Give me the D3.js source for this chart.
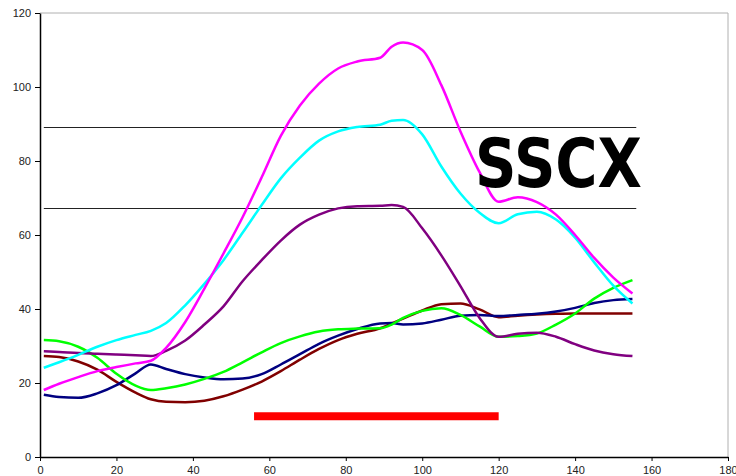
<!DOCTYPE html>
<html><head><meta charset="utf-8">
<script src="https://cdn.jsdelivr.net/npm/d3@7"></script>
<style>body{margin:0;background:#fff}svg{display:block}</style>
</head><body>
<script>
const xs      = [1,5,10,15,20,25,29,33,38,43,48,53,58,63,68,73,78,83,89,92,95,100,105,110,115,120,125,130,135,140,145,150,155];
const magenta = [18.1,19.8,21.6,23.2,24.3,25.3,26,29.5,36.5,45.5,55,64.8,75.6,86.8,95,100.9,105,106.9,107.9,110.9,112,110,100.5,88,77,69,70.2,68.9,65.5,60,53.8,48.5,44.2];
const cyan    = [24.1,25.6,27.6,29.8,31.6,33,34.1,36.2,41,46.8,53.2,60.6,68.1,75.3,80.9,85.5,88,89.2,89.8,90.9,91.1,87.2,78.5,71.2,66,63.2,65.6,66.3,64.2,59.3,52.6,46.3,41.5];
const purple  = [28.6,28.4,28.1,27.9,27.7,27.5,27.3,28.7,31.5,35.8,40.7,47.5,53.2,58.5,62.8,65.5,67.2,67.8,67.9,68.1,67.6,61.8,54.5,46.2,37.6,32.5,33.3,33.6,32.5,30.5,28.8,27.8,27.3];
const green   = [31.6,31.3,29.8,26.8,22.5,19.3,18.1,18.6,19.6,21.1,23,25.6,28.3,30.8,32.6,33.9,34.5,34.7,34.8,35.8,37.6,39.5,40.2,38.4,35.3,32.5,32.7,33.4,35.8,38.8,42.8,45.7,47.8];
const navy    = [16.8,16.2,16,17.2,19.4,22.6,25,23.8,22.4,21.5,21,21.2,22.4,25,27.8,30.6,32.8,34.6,36.1,36.2,35.8,36.1,37.1,38.2,38.4,38.1,38.4,38.7,39.3,40.3,41.6,42.4,42.7];
const maroon  = [27.3,27,25.8,23.6,20.3,17.4,15.6,14.9,14.8,15.2,16.4,18.2,20.4,23.2,26.3,29.2,31.6,33.3,34.8,36.1,37.4,39.6,41.3,41.5,39.9,37.8,38.2,38.5,38.7,38.8,38.8,38.8,38.8];
const refLevels = [89.3, 67.2];
const refRange  = [1, 156];
const barX = [56, 120];
const barY = 11;
const xTicks = [0,20,40,60,80,100,120,140,160,180];
const yTicks = [0,20,40,60,80,100,120];
const label = "SSCX";

const W = 736, H = 476;
const m = {l:40, r:8, t:13, b:19};
const svg = d3.select("body").append("svg").attr("width", W).attr("height", H);
const x = d3.scaleLinear().domain([0,180]).range([m.l, W - m.r]);
const y = d3.scaleLinear().domain([0,120]).range([H - m.b, m.t]);

// frame top / right (gray)
svg.append("line").attr("x1", x(0)).attr("x2", x(180)).attr("y1", y(120)).attr("y2", y(120)).attr("stroke", "#b0b0b0");
svg.append("line").attr("x1", x(180)).attr("x2", x(180)).attr("y1", y(120)).attr("y2", y(0)).attr("stroke", "#b0b0b0");

// reference lines
refLevels.forEach(v => {
  svg.append("line").attr("x1", x(refRange[0])).attr("x2", x(refRange[1]))
    .attr("y1", Math.round(y(v)) + 0.5).attr("y2", Math.round(y(v)) + 0.5)
    .attr("stroke", "#222").attr("stroke-width", 1);
});

// series
const series = [
  {v: maroon, c: "#800000"},
  {v: navy, c: "#000080"},
  {v: green, c: "#00ff00"},
  {v: purple, c: "#800080"},
  {v: cyan, c: "#00ffff"},
  {v: magenta, c: "#ff00ff"}
];
const line = d3.line().x(d => x(d[0])).y(d => y(d[1])).curve(d3.curveMonotoneX);
series.forEach(s => {
  svg.append("path").datum(xs.map((xx, i) => [xx, s.v[i]]))
    .attr("d", line).attr("fill", "none").attr("stroke", s.c).attr("stroke-width", 2.5)
    .attr("stroke-linejoin", "round");
});

// red bar
svg.append("line").attr("x1", x(barX[0])).attr("x2", x(barX[1])).attr("y1", y(barY)).attr("y2", y(barY))
  .attr("stroke", "#ff0000").attr("stroke-width", 8);

// axes
const xa = svg.append("g").attr("transform", `translate(0,${y(0)})`)
  .call(d3.axisBottom(x).tickValues(xTicks).tickSize(4).tickSizeOuter(0));
const ya = svg.append("g").attr("transform", `translate(${x(0)},0)`)
  .call(d3.axisLeft(y).tickValues(yTicks).tickSize(5).tickSizeOuter(0));
[xa, ya].forEach(g => {
  g.select(".domain").attr("stroke", "#000").attr("stroke-width", 1.5);
  g.selectAll(".tick line").attr("stroke", "#000");
  g.selectAll("text").attr("font-family", "Liberation Sans, Arial, sans-serif").attr("font-size", 11).attr("fill", "#222");
});
xa.selectAll("text").attr("dy", "0.9em");
ya.selectAll("text").attr("x", -9);

// label
svg.append("text").attr("x", 475).attr("y", 187).text(label)
  .attr("font-family", "DejaVu Sans, sans-serif").attr("font-weight", "bold").attr("font-size", 68)
  .attr("textLength", 167).attr("lengthAdjust", "spacingAndGlyphs").attr("fill", "#000");
</script>
</body></html>
